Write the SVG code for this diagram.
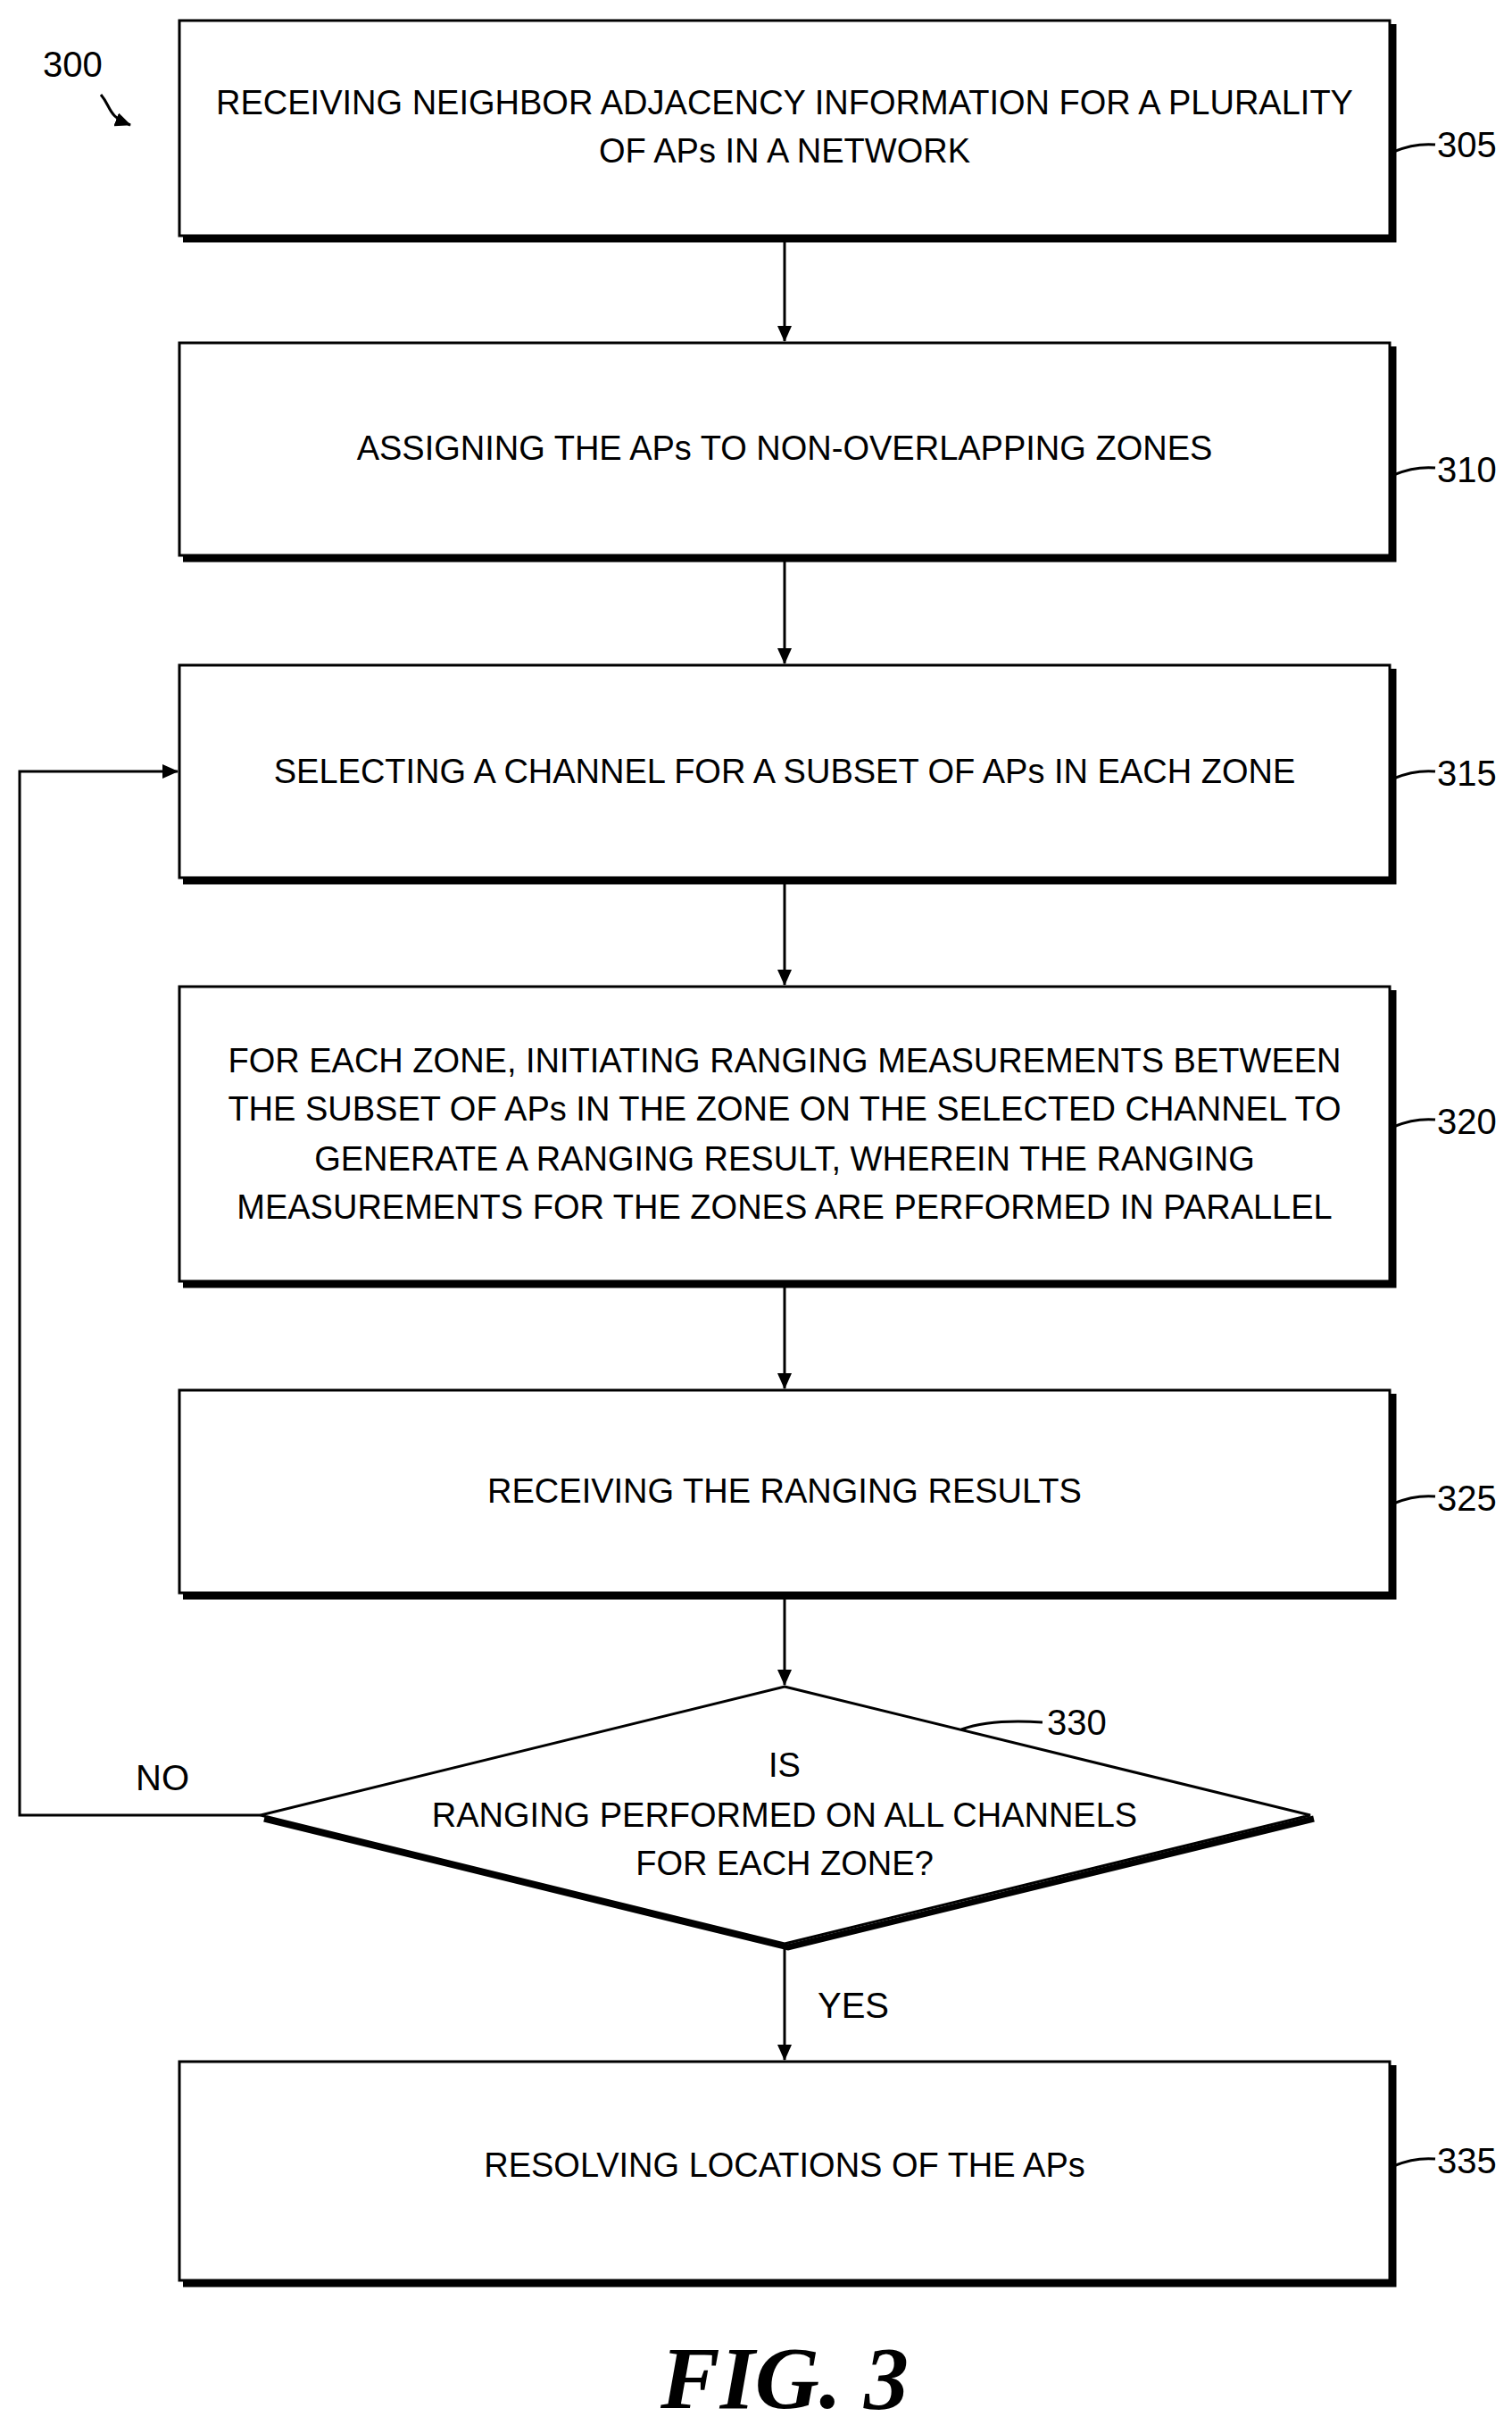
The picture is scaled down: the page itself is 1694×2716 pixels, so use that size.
<svg xmlns="http://www.w3.org/2000/svg" width="1694" height="2716" viewBox="0 0 1694 2716">
<style>
.b{fill:#fff;stroke:#000;stroke-width:3}
.s{fill:none;stroke:#000;stroke-width:7}
.t{font-family:"Liberation Sans",Arial,sans-serif;font-size:38px;text-anchor:middle;fill:#000}
.l{font-family:"Liberation Sans",Arial,sans-serif;font-size:40px;fill:#000}
.c{fill:none;stroke:#000;stroke-width:3}
</style>
<defs><marker id="a" markerWidth="18" markerHeight="16" refX="17" refY="8" orient="auto" markerUnits="userSpaceOnUse" viewBox="0 0 18 16"><path d="M0,0L18,8L0,16z" fill="#000"/></marker></defs>
<rect width="1694" height="2716" fill="#fff"/>
<g id="n300"><text class="l" x="48" y="86">300</text><path class="c" d="M113,106 C125,120 120,130 146,140" marker-end="url(#a)"/></g>
<g id="n305"><polyline class="s" points="1561,27 1561,268 205,268"/><rect class="b" x="201" y="23" width="1356" height="241"/>
<text class="t" x="879" y="128">RECEIVING NEIGHBOR ADJACENCY INFORMATION FOR A PLURALITY</text><text class="t" x="879" y="182">OF APs IN A NETWORK</text>
<path class="c" d="M1561,170 Q1585,160 1608,162"/><text class="l" x="1610" y="176">305</text></g>
<g id="n310"><polyline class="s" points="1561,388 1561,626 205,626"/><rect class="b" x="201" y="384" width="1356" height="238"/>
<text class="t" x="879" y="515">ASSIGNING THE APs TO NON-OVERLAPPING ZONES</text>
<path class="c" d="M1561,532 Q1585,522 1608,524"/><text class="l" x="1610" y="540">310</text></g>
<g id="n315"><polyline class="s" points="1561,749 1561,987 205,987"/><rect class="b" x="201" y="745" width="1356" height="238"/>
<text class="t" x="879" y="877">SELECTING A CHANNEL FOR A SUBSET OF APs IN EACH ZONE</text>
<path class="c" d="M1561,872 Q1585,862 1608,864"/><text class="l" x="1610" y="880">315</text></g>
<g id="n320"><polyline class="s" points="1561,1109 1561,1439 205,1439"/><rect class="b" x="201" y="1105" width="1356" height="330"/>
<text class="t" x="879" y="1201">FOR EACH ZONE, INITIATING RANGING MEASUREMENTS BETWEEN</text>
<text class="t" x="879" y="1255">THE SUBSET OF APs IN THE ZONE ON THE SELECTED CHANNEL TO</text>
<text class="t" x="879" y="1311">GENERATE A RANGING RESULT, WHEREIN THE RANGING</text>
<text class="t" x="879" y="1365">MEASUREMENTS FOR THE ZONES ARE PERFORMED IN PARALLEL</text>
<path class="c" d="M1561,1262 Q1585,1252 1608,1254"/><text class="l" x="1610" y="1270">320</text></g>
<g id="n325"><polyline class="s" points="1561,1561 1561,1788 205,1788"/><rect class="b" x="201" y="1557" width="1356" height="227"/>
<text class="t" x="879" y="1683">RECEIVING THE RANGING RESULTS</text>
<path class="c" d="M1561,1684 Q1585,1674 1608,1676"/><text class="l" x="1610" y="1692">325</text></g>
<g id="n330"><polyline class="s" points="1472,2037 883,2181 296,2037"/><polygon class="b" points="879,1889 1468,2033 879,2177 292,2033"/>
<text class="t" x="879" y="1990">IS</text><text class="t" x="879" y="2046">RANGING PERFORMED ON ALL CHANNELS</text><text class="t" x="879" y="2100">FOR EACH ZONE?</text>
<path class="c" d="M1077,1937 Q1110,1925 1168,1929"/><text class="l" x="1173" y="1943">330</text></g>
<g id="n335"><polyline class="s" points="1561,2313 1561,2558 205,2558"/><rect class="b" x="201" y="2309" width="1356" height="245"/>
<text class="t" x="879" y="2438">RESOLVING LOCATIONS OF THE APs</text>
<path class="c" d="M1561,2426 Q1585,2416 1608,2418"/><text class="l" x="1610" y="2434">335</text></g>
<g id="connectors">
<line class="c" x1="879" y1="268" x2="879" y2="382" marker-end="url(#a)"/>
<line class="c" x1="879" y1="626" x2="879" y2="743" marker-end="url(#a)"/>
<line class="c" x1="879" y1="987" x2="879" y2="1103" marker-end="url(#a)"/>
<line class="c" x1="879" y1="1439" x2="879" y2="1555" marker-end="url(#a)"/>
<line class="c" x1="879" y1="1788" x2="879" y2="1887" marker-end="url(#a)"/>
<line class="c" x1="879" y1="2181" x2="879" y2="2307" marker-end="url(#a)"/>
<polyline class="c" points="292,2033 22,2033 22,864 199,864" marker-end="url(#a)"/>
<text class="l" x="152" y="2005">NO</text>
<text class="l" x="916" y="2260">YES</text>
</g>
<text x="879" y="2697" style="font-family:'Liberation Serif',serif;font-size:100px;font-weight:bold;font-style:italic;text-anchor:middle">FIG. 3</text>
</svg>
